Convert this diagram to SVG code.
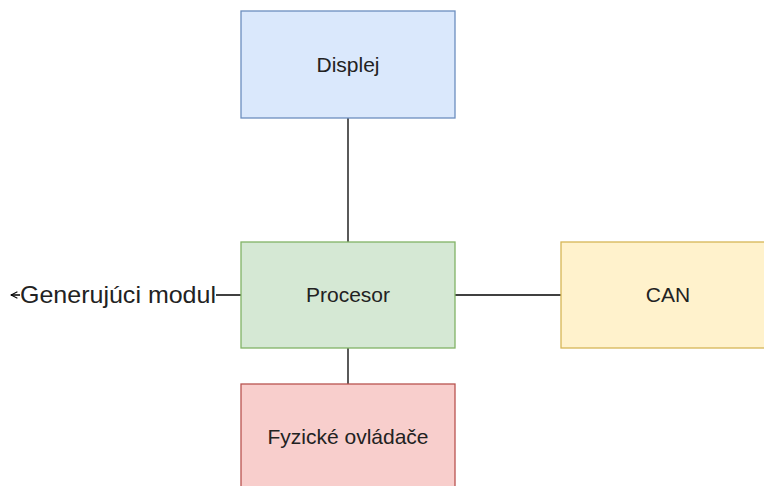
<svg xmlns="http://www.w3.org/2000/svg" width="764" height="486" viewBox="0 0 764 486">
<defs>
<marker id="open" viewBox="0 0 10 10" refX="9" refY="5" markerWidth="8" markerHeight="8" orient="auto" markerUnits="userSpaceOnUse">
<path d="M1,1 L9,5 L1,9" fill="none" stroke="#000" stroke-width="1.3"/>
</marker>
<style>
.box{stroke-width:1.3}
.lbl{font-family:"Liberation Sans",Arial,sans-serif;font-size:21px;fill:#222;text-anchor:middle}
.edge{stroke:#000;stroke-width:1.3;fill:none}
</style>
</defs>
<rect width="764" height="486" fill="#fff"/>
<g id="connectors">
<line class="edge" x1="348" y1="118" x2="348" y2="242"/>
<line class="edge" x1="455" y1="295" x2="561" y2="295"/>
<line class="edge" x1="348" y1="348" x2="348" y2="384"/>
<line class="edge" x1="241" y1="295" x2="11" y2="295" marker-end="url(#open)"/>
<rect x="20" y="282" width="196" height="26" fill="#fff"/>
<text x="20" y="303" font-family="'Liberation Sans',Arial,sans-serif" font-size="24" fill="#222" textLength="196" lengthAdjust="spacingAndGlyphs">Generujúci modul</text>
</g>
<g id="displej">
<rect class="box" x="241" y="11" width="214" height="107" fill="#dae8fc" stroke="#6c8ebf"/>
<text class="lbl" x="348" y="72">Displej</text>
</g>
<g id="procesor">
<rect class="box" x="241" y="242" width="214" height="106" fill="#d5e8d4" stroke="#82b366"/>
<text class="lbl" x="348" y="302">Procesor</text>
</g>
<g id="can">
<rect class="box" x="561" y="242" width="214" height="106" fill="#fff2cc" stroke="#d6b656"/>
<text class="lbl" x="668" y="302">CAN</text>
</g>
<g id="fyzicke">
<rect class="box" x="241" y="384" width="214" height="107" fill="#f8cecc" stroke="#b85450"/>
<text class="lbl" x="348" y="444">Fyzické ovládače</text>
</g>
</svg>
